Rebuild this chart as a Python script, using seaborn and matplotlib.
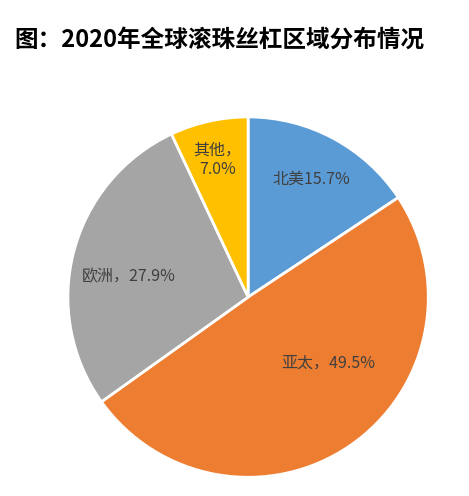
import matplotlib
matplotlib.use("Agg")
import matplotlib.pyplot as plt
import seaborn as sns
import numpy as np

sns.set_theme(style="white")
plt.rcParams['font.family'] = ['Noto Sans CJK SC', 'DejaVu Sans']

regions = ["北美", "亚太", "欧洲", "其他"]
shares = [15.7, 49.5, 27.9, 7.0]
labels = ["北美15.7%", "亚太，49.5%", "欧洲，27.9%", "其他，\n7.0%"]
colors = ["#5B9BD5", "#ED7D31", "#A5A5A5", "#FFC000"]

fig = plt.figure(figsize=(4.69, 4.96), dpi=100)
ax = fig.add_axes([0.141, 0.034, 0.776, 0.734])
wedges, texts = ax.pie(shares, labels=labels, colors=colors, startangle=90,
                       counterclock=False, labeldistance=0.68,
                       wedgeprops=dict(edgecolor="white", linewidth=2),
                       textprops=dict(color="#404040", fontsize=11.5))
dists = [0.74, 0.58, 0.67, 0.78]
shifts = [0, 16, 5, 0]
for w, t, d, s in zip(wedges, texts, dists, shifts):
    ang = np.deg2rad((w.theta1 + w.theta2) / 2 + s)
    t.set_position((d * np.cos(ang), d * np.sin(ang)))
    t.set_ha("center"); t.set_va("center")
ax.set_xlim(-1.01, 1.01)
ax.set_ylim(-1.01, 1.01)
ax.set_aspect("equal")
fig.text(0.03, 1 - 40 / 496, "图：2020年全球滚珠丝杠区域分布情况", fontsize=17,
         fontweight="bold", color="black", va="center", ha="left")
fig.savefig("out.png", dpi=100)
